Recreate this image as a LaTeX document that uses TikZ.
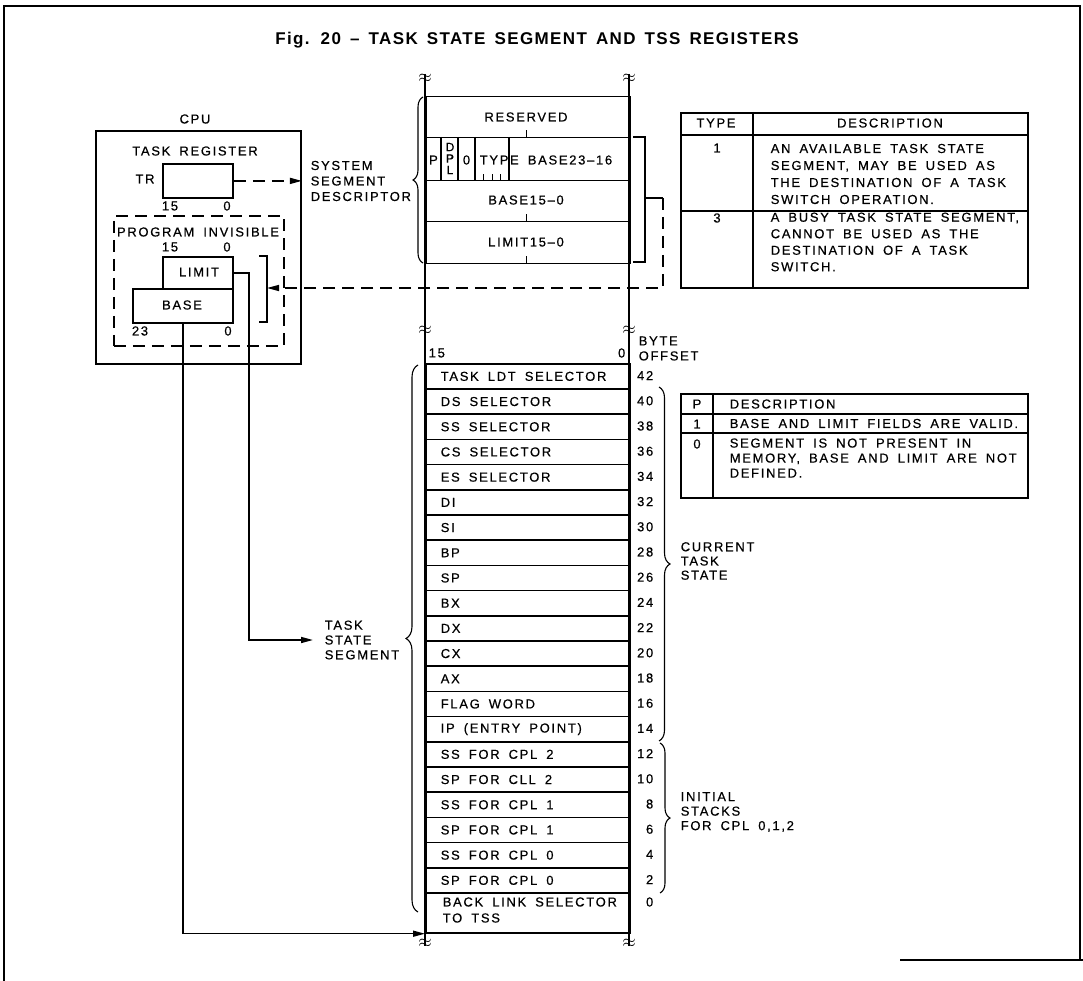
\documentclass[tikz,border=0pt]{standalone}
\usepackage{fontspec}
\setmainfont{Liberation Sans}
\newfontfamily\lblf[LetterSpace=13,WordSpace=1.7,FakeBold=0.5]{Liberation Sans}
\newfontfamily\ttlf[LetterSpace=8,WordSpace=1.5]{Liberation Sans}
\usetikzlibrary{arrows.meta,decorations.pathreplacing}
\tikzset{
  lbl/.style={font=\lblf\fontsize{13}{15}\selectfont, inner sep=0pt},
  rbox/.style={draw, line width=1.8pt, inner sep=0pt, anchor=north west},
  rowc/.style={draw, line width=1.5pt, anchor=north west, minimum width=204pt,
    minimum height=25.2pt, text width=174pt, inner xsep=15pt, inner ysep=0pt,
    align=flush left, font=\lblf\fontsize{13}{16}\selectfont},
  dsc/.style={draw, line width=1.5pt, anchor=north west, minimum width=204pt, inner sep=0pt},
  dsh/.style={dash pattern=on 12pt off 7pt},
  arr/.style={-{Triangle[length=12pt,width=6pt]}},
  brc/.style={decorate, decoration={brace, amplitude=#1}, line width=1.1pt},
  brk/.style={font=\fontsize{18}{18}\selectfont, inner sep=0pt},
  frm/.style={line width=1.6pt},
  tline/.style={line width=1.5pt},
}
\begin{document}
\begin{tikzpicture}[x=1pt,y=-1pt,line width=1.5pt]
\useasboundingbox[fill=white] (0,0) rectangle (1083,981);
% frame
\draw[frm] (4,981) -- (4,6) -- (1080,6) -- (1080,960);
\draw[frm] (900,960) -- (1083,960);
% title
\node[font=\ttlf\bfseries\fontsize{17}{20}\selectfont, inner sep=0pt] (title) at (537,40)
  {Fig. 20 – TASK STATE SEGMENT AND TSS REGISTERS};

% ---------------- CPU ----------------
\node[lbl] (cpulbl) at (195,119) {CPU};
\node[rbox, line width=1.9pt, minimum width=205pt, minimum height=233pt] (cpu) at (95,130) {};
\node[lbl] (treg) at (195,151) {TASK REGISTER};
\node[rbox, minimum width=70pt, minimum height=34pt] (tr) at (162,163) {};
\node[lbl] (trl) at (145,179) {TR};
\node[lbl] (tr15) at (170,206) {15};
\node[lbl] (tr0) at (227,206) {0};
\node[rbox, dsh, minimum width=170pt, minimum height=130pt] (pinv) at (113,215) {};
\node[lbl] (pinvl) at (198,232) {PROGRAM INVISIBLE};
\node[lbl] (li15) at (170,247) {15};
\node[lbl] (li0) at (227,247) {0};
\node[rbox, minimum width=70pt, minimum height=32pt] (limit) at (162,256) {};
\node[lbl] (limitl) at (199,272) {LIMIT};
\node[rbox, minimum width=100pt, minimum height=34pt] (base) at (132,288) {};
\node[lbl] (basel) at (182,305) {BASE};
\node[lbl] (b23) at (140,331) {23};
\node[lbl] (b0) at (228,331) {0};
\draw[tline] (259,256) -- (267,256) -- (267,322) -- (259,322);
\coordinate (lbr) at (267,288);

\node[lbl, align=left, anchor=west, font=\lblf\fontsize{13}{15.5}\selectfont] (ssd) at (310,181)
  {SYSTEM\\SEGMENT\\DESCRIPTOR};
\node[lbl, align=left, anchor=west, font=\lblf\fontsize{13}{14.8}\selectfont] (tsslbl) at (324,640)
  {TASK\\STATE\\SEGMENT};

% ---------------- descriptor column ----------------
\node[dsc, minimum height=41pt] (resv) at (425,96) {};
\node[lbl] (resvl) at (526,117) {RESERVED};
\node[dsc, minimum height=43pt] (prow) at (425,137) {};
\foreach \x in {441,458,475,509} \draw[tline] (\x,137) -- (\x,180);
\node[lbl] (pl) at (433.5,160) {P};
\node[lbl, align=center, font=\lblf\fontsize{12}{11.5}\selectfont] (dpl) at (450,158.5) {D\\P\\L};
\node[lbl] (zl) at (466.5,160) {0};
\node[lbl, anchor=west] (typel) at (479,160) {TYPE};
\node[lbl] (b2316) at (570,160) {BASE23–16};
\foreach \x in {483.5,492,500.5} \draw[line width=1pt] (\x,180) -- (\x,174);
\node[dsc, minimum height=41pt] (b150) at (425,180) {};
\node[lbl] (b150l) at (526,200) {BASE15–0};
\node[dsc, minimum height=42pt] (l150) at (425,221) {};
\node[lbl] (l150l) at (526,242) {LIMIT15–0};
\foreach \y in {137,221,263} \draw[line width=1pt] (526,\y) -- (526,{\y-7});
\draw[tline] (633,137) -- (645,137) -- (645,262) -- (633,262);
\coordinate (dbr) at (645,198);
\coordinate (dj) at (663,198);

% ---------------- TSS ----------------
\node[lbl, anchor=west] (c15) at (428,353) {15};
\node[lbl, anchor=east] (c0) at (626,353) {0};
\node[lbl, anchor=west, align=left, font=\lblf\fontsize{13}{15}\selectfont] (bo) at (638,348.5) {BYTE\\OFFSET};
\foreach \lab/\off [count=\i from 0] in {TASK LDT SELECTOR/42, DS SELECTOR/40, SS SELECTOR/38,
   CS SELECTOR/36, ES SELECTOR/34, DI/32, SI/30, BP/28, SP/26, BX/24, DX/22, CX/20, AX/18,
   FLAG WORD/16, IP (ENTRY POINT)/14, SS FOR CPL 2/12, SP FOR CLL 2/10, SS FOR CPL 1/8,
   SP FOR CPL 1/6, SS FOR CPL 0/4, SP FOR CPL 0/2}{
  \node[rowc] (r\i) at (425,{363+25.2*\i}) {\lab};
  \node[lbl, anchor=east] (o\i) at (654,{375.6+25.2*\i}) {\off};
}
\node[rowc, minimum height=40pt] (back) at (425,892.2) {};
\node[lbl, anchor=west, align=left, font=\lblf\fontsize{13}{16}\selectfont] (backl) at (442,910)
  {BACK LINK SELECTOR\\TO TSS};
\node[lbl, anchor=east] (o21) at (654,902) {0};

% column sides and breaks
\draw[line width=2.2pt] (425,74) -- (425,946);
\draw[line width=2.2pt] (629,74) -- (629,946);
\foreach \x/\y in {425/78, 629/78, 425/330, 629/330, 425/943, 629/943}
  \node[brk] at (\x,\y) {$\approx$};

% braces
\draw[brc=10] (423,263) -- (423,97);
\draw[brc=12] (418,912) -- (418,365);
\draw[brc=11] (659,387) -- (659,741);
\draw[brc=10] (660,743) -- (660,893);
\node[lbl, align=left, anchor=west, font=\lblf\fontsize{13}{14.2}\selectfont] (cts) at (680,561)
  {CURRENT\\TASK\\STATE};
\node[lbl, align=left, anchor=west, font=\lblf\fontsize{13}{14.5}\selectfont] (ist) at (680,812)
  {INITIAL\\STACKS\\FOR CPL 0,1,2};

% ---------------- TYPE table ----------------
\node[rbox, line width=1.6pt, minimum width=347pt, minimum height=175pt] (ttab) at (680,112) {};
\draw[tline] (680,135) -- (1027,135);
\draw[tline] (680,211) -- (1027,211);
\draw[tline] (753,112) -- (753,287);
\node[lbl] (th1) at (716,123) {TYPE};
\node[lbl] (th2) at (890,123) {DESCRIPTION};
\node[lbl] (t1) at (717,148) {1};
\node[lbl, anchor=west, align=left, font=\lblf\fontsize{13}{17}\selectfont] (t1d) at (770,174)
  {AN AVAILABLE TASK STATE\\SEGMENT, MAY BE USED AS\\THE DESTINATION OF A TASK\\SWITCH OPERATION.};
\node[lbl] (t3) at (717,218) {3};
\node[lbl, anchor=west, align=left, font=\lblf\fontsize{13}{16.5}\selectfont] (t3d) at (770,242)
  {A BUSY TASK STATE SEGMENT,\\CANNOT BE USED AS THE\\DESTINATION OF A TASK\\SWITCH.};

% ---------------- P table ----------------
\node[rbox, line width=1.6pt, minimum width=347pt, minimum height=104pt] (ptab) at (680,393) {};
\draw[tline] (680,414) -- (1027,414);
\draw[tline] (680,433) -- (1027,433);
\draw[tline] (713,393) -- (713,497);
\node[lbl] (ph1) at (697,404) {P};
\node[lbl, anchor=west] (ph2) at (729,404) {DESCRIPTION};
\node[lbl] (p1) at (697,424) {1};
\node[lbl, anchor=west] (p1d) at (729,423.5) {BASE AND LIMIT FIELDS ARE VALID.};
\node[lbl] (p0) at (697,444) {0};
\node[lbl, anchor=west, align=left, font=\lblf\fontsize{13}{15}\selectfont] (p0d) at (729,458)
  {SEGMENT IS NOT PRESENT IN\\MEMORY, BASE AND LIMIT ARE NOT\\DEFINED.};

% ---------------- connectors ----------------
\draw[dsh, arr] (tr.east) -- (tr.east -| cpu.east);
\draw (dbr) -- (dj);
\draw[dsh, arr] (dj) |- (lbr);
\coordinate (lbend) at (249,640);
\coordinate (tsstip) at (313,640);
\draw[arr] (limit.east) -| (lbend) -- (tsstip);
\draw[arr] (base.south) |- (back.south west);
\end{tikzpicture}
\end{document}
